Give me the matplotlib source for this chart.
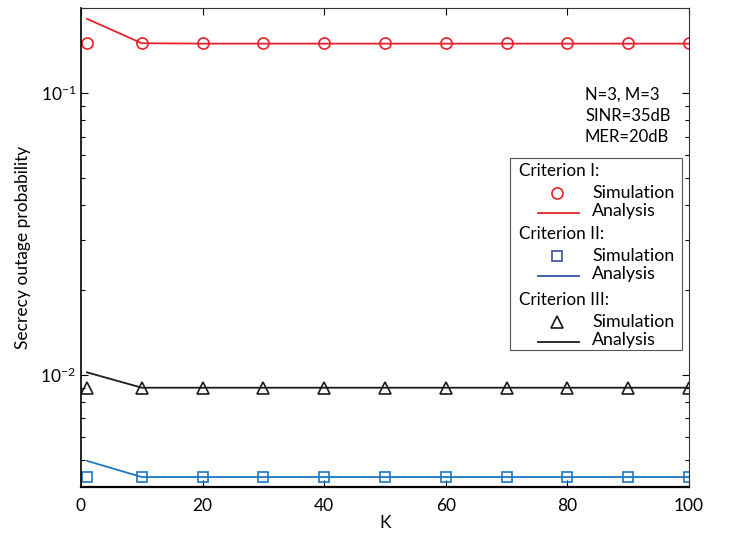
import matplotlib
matplotlib.use('Agg')
import matplotlib.pyplot as plt
from matplotlib.lines import Line2D
from matplotlib.patches import Rectangle

plt.rcParams['font.family'] = ['Lato', 'DejaVu Sans']
plt.rcParams['mathtext.fontset'] = 'custom'
plt.rcParams['mathtext.rm'] = 'Lato'
plt.rcParams['mathtext.it'] = 'Lato:italic'

# number of users K
K = [1, 10, 20, 30, 40, 50, 60, 70, 80, 90, 100]

# criterion I
sim_I = [0.150, 0.150, 0.150, 0.150, 0.150, 0.150, 0.150, 0.150, 0.150, 0.150, 0.150]
ana_I = [0.183, 0.150, 0.1495, 0.1495, 0.1495, 0.1495, 0.1495, 0.1495, 0.1495, 0.1495, 0.1495]
# criterion II
sim_II = [0.00434, 0.00434, 0.00434, 0.00434, 0.00434, 0.00434, 0.00434, 0.00434, 0.00434, 0.00434, 0.00434]
ana_II = [0.00495, 0.00434, 0.00434, 0.00434, 0.00434, 0.00434, 0.00434, 0.00434, 0.00434, 0.00434, 0.00434]
# criterion III
sim_III = [0.0090, 0.0090, 0.0090, 0.0090, 0.0090, 0.0090, 0.0090, 0.0090, 0.0090, 0.0090, 0.0090]
ana_III = [0.0102, 0.0090, 0.0090, 0.0090, 0.0090, 0.0090, 0.0090, 0.0090, 0.0090, 0.0090, 0.0090]

red = '#e8212b'
blue = '#1c78c2'
blue_leg = '#3553a3'
black = '#1a1a1a'

fig = plt.figure(figsize=(7.29, 5.35), dpi=100)
ax = fig.add_axes([81/729, 1-487/535, 608/729, 479/535])

ax.plot(K, ana_I, '-', color=red, lw=1.3)
ax.plot(K, sim_I, 'o', color=red, mfc='none', ms=8, mew=1.2)
ax.plot(K, ana_II, '-', color=blue, lw=1.3)
ax.plot(K, sim_II, 's', color=blue, mfc='none', ms=7, mew=1.2)
ax.plot(K, ana_III, '-', color=black, lw=1.3)
ax.plot(K, sim_III, '^', color=black, mfc='none', ms=9, mew=1.2)

ax.set_yscale('log')
ax.set_xlim(0, 100)
ax.set_ylim(0.004, 0.2)
ax.set_xticks([0, 20, 40, 60, 80, 100])
ax.tick_params(which='both', direction='in', top=True, right=True, labelsize=12.5)
ax.tick_params(which='major', length=5, width=0.8)
ax.tick_params(which='minor', length=3, width=0.8)
ax.tick_params(axis='x', pad=8)
for s in ax.spines.values():
    s.set_linewidth(0.8)
    s.set_color('#333333')
ax.spines['bottom'].set_linewidth(1.6)
ax.spines['bottom'].set_color('black')
ax.spines['left'].set_linewidth(1.2)
ax.spines['left'].set_color('black')

ax.set_xlabel('K', fontsize=12.5, labelpad=1)
ax.set_ylabel('Secrecy outage probability', fontsize=12.5, labelpad=7)


def px(x, y):
    # figure pixel position -> axes fraction
    return (x - 81) / 608, (487 - y) / 479


for txt, y in [('N=3, M=3', 95), ('SINR=35dB', 116), ('MER=20dB', 137)]:
    ax.text(*px(585, y), txt, transform=ax.transAxes, fontsize=12,
            ha='left', va='center')

# legend box drawn by hand, with group headings
x0, y0 = px(510, 350)
x1, y1 = px(682, 158)
ax.add_patch(Rectangle((x0, y0), x1 - x0, y1 - y0, transform=ax.transAxes,
                       facecolor='white', edgecolor='#555555', lw=0.8, zorder=5))

groups = [
    ('Criterion I:', 171, 'o', red, red, 8),
    ('Criterion II:', 234, 's', blue_leg, blue_leg, 7),
    ('Criterion III:', 300, '^', black, black, 9),
]
for head, y, mk, mc, lc, ms in groups:
    ax.text(*px(519, y), head, transform=ax.transAxes, fontsize=12.3,
            ha='left', va='center', zorder=6)
    ax.add_line(Line2D([px(557, 0)[0]], [px(0, y + 22)[1]], marker=mk, color=mc,
                       mfc='none', ms=ms, mew=1.2, ls='none',
                       transform=ax.transAxes, zorder=6))
    ax.text(*px(592, y + 22), 'Simulation', transform=ax.transAxes, fontsize=12.8,
            ha='left', va='center', zorder=6)
    ax.add_line(Line2D([px(538, 0)[0], px(579, 0)[0]], [px(0, y + 42)[1]] * 2,
                       color=lc, lw=1.3, transform=ax.transAxes, zorder=6))
    ax.text(*px(592, y + 40), 'Analysis', transform=ax.transAxes, fontsize=12.8,
            ha='left', va='center', zorder=6)

fig.savefig('out.png', dpi=100)
